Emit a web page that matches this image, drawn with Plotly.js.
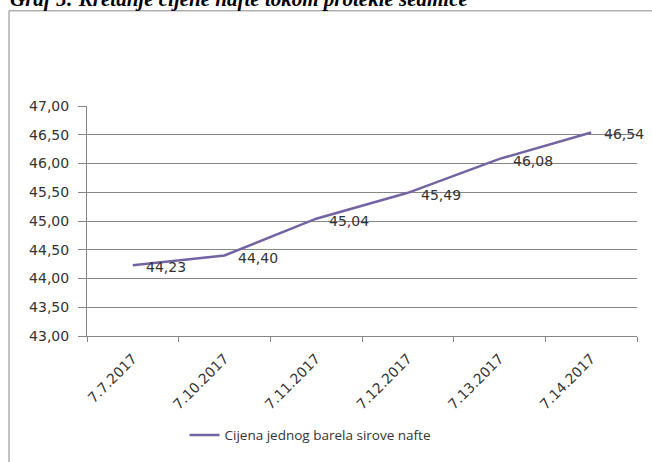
<!DOCTYPE html>
<html>
<head>
<meta charset="utf-8">
<script src="https://cdn.plot.ly/plotly-3.0.1.min.js"></script>
<style>html,body{margin:0;padding:0;background:#fff;}#chart{width:652px;height:462px;}</style>
</head>
<body>
<div id="chart"></div>
<script>
const categories = ['7.7.2017','7.10.2017','7.11.2017','7.12.2017','7.13.2017','7.14.2017'];
const prices = [44.23, 44.40, 45.04, 45.49, 46.08, 46.54];
const labels = ['44,23','44,40','45,04','45,49','46,08','46,54'];
const seriesName = 'Cijena jednog barela sirove nafte';
const chartTitle = 'Graf 5: Kretanje cijene nafte tokom protekle sedmice';

const trace = {
  x: categories, y: prices, type: 'scatter', mode: 'lines',
  name: seriesName,
  line: {color: '#7364a3', width: 2.5}
};
const L = 87, R = 15, T = 106, B = 124, W = 652, H = 462;
const pw = W - L - R, ph = H - T - B;
const px = v => (v - L) / pw, py = v => (H - B - v) / ph;
const valueLabels = categories.map((c, i) => ({
  x: c, y: prices[i], xref: 'x', yref: 'y', text: labels[i], showarrow: false,
  xanchor: 'left', yanchor: 'middle', xshift: 11, yshift: -2,
  font: {family: 'DejaVu Sans', size: 14, color: '#333'}
}));
const layout = {
  width: W, height: H, margin: {l: L, r: R, t: T, b: B},
  paper_bgcolor: '#fff', plot_bgcolor: '#fff',
  separators: ', ',
  showlegend: true,
  legend: {orientation: 'h', x: px(310), xanchor: 'center', y: py(438), yanchor: 'middle',
    font: {family: 'Open Sans', size: 13.5, color: '#333'}},
  xaxis: {type: 'category', range: [-0.5, 5.5], tickson: 'boundaries', ticks: 'outside', ticklen: 5, tickcolor: '#868686',
    ticklabelstandoff: 8,
    showline: true, linecolor: '#868686', showgrid: false, tickangle: -45,
    tickfont: {family: 'DejaVu Sans', size: 14, color: '#333'}},
  yaxis: {range: [43, 47], dtick: 0.5, tickformat: '.2f', ticks: 'outside', ticklen: 8, tickcolor: '#868686',
    ticklabelstandoff: 6,
    showline: true, linecolor: '#868686', gridcolor: '#868686', gridwidth: 1, zeroline: false,
    tickfont: {family: 'DejaVu Sans', size: 14, color: '#333'}},
  annotations: [{text: chartTitle, xref: 'paper', yref: 'paper', x: px(8), xanchor: 'left',
    y: py(12), yanchor: 'bottom', showarrow: false,
    font: {family: 'Liberation Serif', size: 21, color: '#000', weight: 'bold', style: 'italic'}}].concat(valueLabels),
  shapes: [{type: 'rect', xref: 'paper', yref: 'paper', x0: px(9), x1: px(680), y0: py(10), y1: py(500),
    line: {color: '#888', width: 1}, fillcolor: 'rgba(0,0,0,0)'}]
};
Plotly.newPlot('chart', [trace], layout, {displayModeBar: false, staticPlot: true});
</script>
</body>
</html>
